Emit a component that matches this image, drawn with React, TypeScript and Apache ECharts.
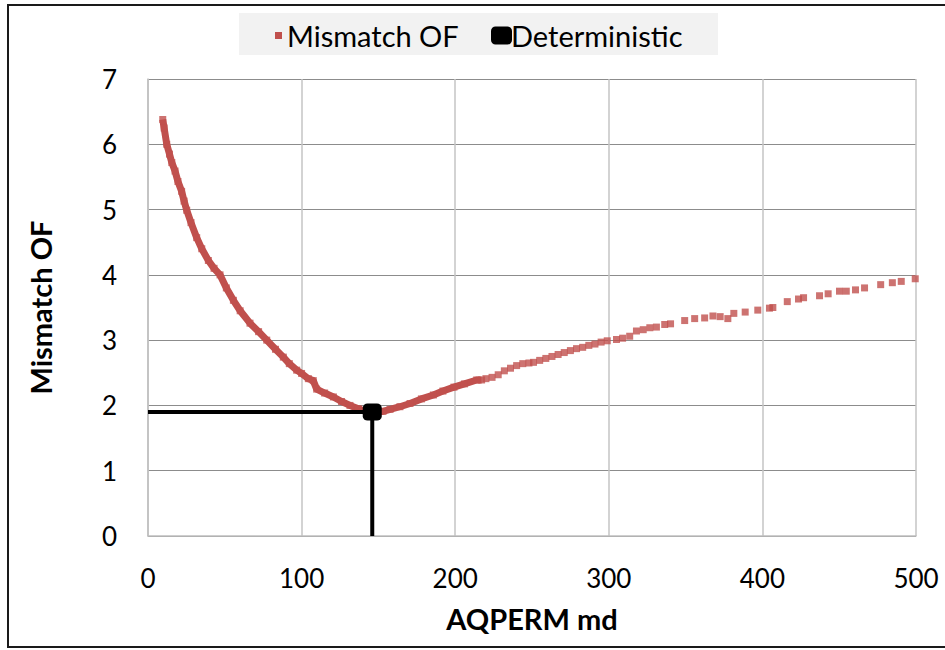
import React, { useEffect, useRef } from "react";
import * as echarts from "echarts";

// Mismatch OF samples (AQPERM md, Mismatch OF)
const mismatchDense: [number, number][] = [
  [9.6, 6.38], [10.5, 6.25], [12.2, 6.0], [14, 5.85], [15.5, 5.72], [17.6, 5.59],
  [19.5, 5.43], [21.9, 5.28], [23.5, 5.13], [25.2, 4.99], [28, 4.8], [31.7, 4.57],
  [35, 4.4], [39.3, 4.22], [43, 4.1], [46.9, 4.0], [51, 3.8], [55.6, 3.61],
  [60, 3.45], [66.4, 3.26], [72, 3.13], [77.3, 3.0], [83, 2.86], [88.1, 2.74],
  [92, 2.64], [96.8, 2.54], [100, 2.49], [104.4, 2.41], [107.6, 2.38], [109.8, 2.25],
  [115, 2.19], [120.7, 2.13], [126, 2.06], [131.5, 2.0], [137, 1.95], [142.4, 1.9],
  [148.9, 1.89], [153, 1.91], [157.6, 1.94], [164, 1.98], [170.6, 2.03], [178, 2.1],
  [185.8, 2.16], [192, 2.22], [199.2, 2.28], [206, 2.33], [214, 2.39], [217.2, 2.39],
];
const mismatchSparse: [number, number][] = [
  [220, 2.41], [224, 2.43], [228, 2.47], [232, 2.53], [236, 2.57], [240, 2.61],
  [244, 2.64], [248, 2.65], [251, 2.66], [255, 2.69], [259, 2.72], [263, 2.75],
  [267, 2.78], [271, 2.81], [275, 2.84], [279, 2.87], [283, 2.89], [287, 2.92],
  [291, 2.94], [295, 2.97], [299, 2.99], [305, 3.01], [309, 3.03], [313.6, 3.06],
  [318, 3.14], [322.4, 3.16], [326.7, 3.19], [331, 3.2], [336.4, 3.24], [340.2, 3.25],
  [349.4, 3.3], [355.9, 3.33], [362.4, 3.34], [367.8, 3.37], [372.5, 3.36], [377.5, 3.33],
  [381.4, 3.41], [388.8, 3.43], [397, 3.46], [404.6, 3.49], [406.8, 3.5], [416.2, 3.59],
  [423.5, 3.63], [426.8, 3.65], [437.2, 3.68], [442.8, 3.71], [450.2, 3.75], [454.6, 3.75],
  [460.6, 3.77], [466.5, 3.8], [477, 3.85], [484.6, 3.88], [490.4, 3.9], [499.5, 3.94],
];
// Deterministic case: guide lines from the y axis to the point, then down to the x axis
const deterministic: [number, number][] = [[0, 1.9], [146, 1.9], [146, 0]];
const xTicks = { min: 0, max: 500, interval: 100 };
const yTicks = { min: 0, max: 7, interval: 1 };

const FONT = "Lato, 'Open Sans', sans-serif";
const RED = "#c0504d";

export default function App() {
  const ref = useRef<HTMLDivElement>(null);
  useEffect(() => {
    if (!ref.current) return;
    const chart = echarts.init(ref.current, null, { renderer: "svg" });
    chart.setOption({
      animation: false,
      backgroundColor: "#ffffff",
      textStyle: { fontFamily: FONT },
      graphic: [
        {
          type: "rect",
          shape: { x: 8, y: 5, width: 960, height: 642 },
          style: { fill: "none", stroke: "#1a1a1a", lineWidth: 2 },
          z: 0,
        },
        {
          type: "rect",
          shape: { x: 239, y: 13, width: 479, height: 42 },
          style: { fill: "#f2f2f2" },
          z: 0,
        },
      ],
      legend: [
        {
          data: [{ name: "Mismatch OF", icon: "rect" }],
          left: 270,
          top: 16,
          itemWidth: 7,
          itemHeight: 7,
          itemGap: 6,
          textStyle: { fontSize: 29, color: "#000", fontFamily: FONT },
        },
        {
          data: [{ name: "Deterministic", icon: "roundRect" }],
          left: 486,
          top: 16,
          itemWidth: 21,
          itemHeight: 18,
          textStyle: { fontSize: 29, color: "#000", fontFamily: FONT, padding: [0, 0, 0, -6] },
        },
      ],
      grid: { left: 148, right: 29, top: 79, bottom: 114, containLabel: false },
      xAxis: {
        type: "value",
        ...xTicks,
        name: "AQPERM md",
        nameLocation: "middle",
        nameGap: 68,
        nameTextStyle: { fontSize: 29, fontWeight: "bold", color: "#000", fontFamily: FONT },
        axisLine: { show: true, lineStyle: { color: "#bfbfbf", width: 1.5 } },
        axisTick: { show: false },
        axisLabel: { fontSize: 26, color: "#000", margin: 29, fontFamily: FONT },
        splitLine: { show: true, lineStyle: { color: "#c4c4c4", width: 1.5 } },
      },
      yAxis: {
        type: "value",
        ...yTicks,
        name: "Mismatch OF",
        nameLocation: "middle",
        nameGap: 93,
        nameRotate: 90,
        nameTextStyle: { fontSize: 29, fontWeight: "bold", color: "#000", fontFamily: FONT },
        axisLine: { show: true, lineStyle: { color: "#bfbfbf", width: 1.5 } },
        axisTick: { show: false },
        axisLabel: { fontSize: 26, color: "#000", margin: 31, fontFamily: FONT },
        splitLine: { show: true, lineStyle: { color: "#8c8c8c", width: 1 } },
      },
      series: [
        {
          name: "Mismatch OF",
          type: "line",
          data: mismatchDense,
          showSymbol: false,
          symbol: "none",
          lineStyle: { color: RED, width: 7 },
          itemStyle: { color: RED },
          z: 3,
        },
        {
          name: "Mismatch OF",
          type: "scatter",
          data: [...mismatchDense, ...mismatchSparse],
          symbol: "rect",
          symbolSize: 7,
          itemStyle: { color: RED },
          z: 3,
        },
        {
          name: "Deterministic",
          type: "line",
          data: deterministic,
          showSymbol: true,
          symbol: "roundRect",
          symbolSize: (_v: any, p: any) => (p.dataIndex === 1 ? [19, 17] : 0),
          lineStyle: { color: "#000", width: 4 },
          itemStyle: { color: "#000" },
          z: 4,
        },
      ],
    });
    return () => chart.dispose();
  }, []);
  return (
    <div
      ref={ref}
      style={{ position: "fixed", left: 0, top: 0, width: 945, height: 650 }}
    />
  );
}
